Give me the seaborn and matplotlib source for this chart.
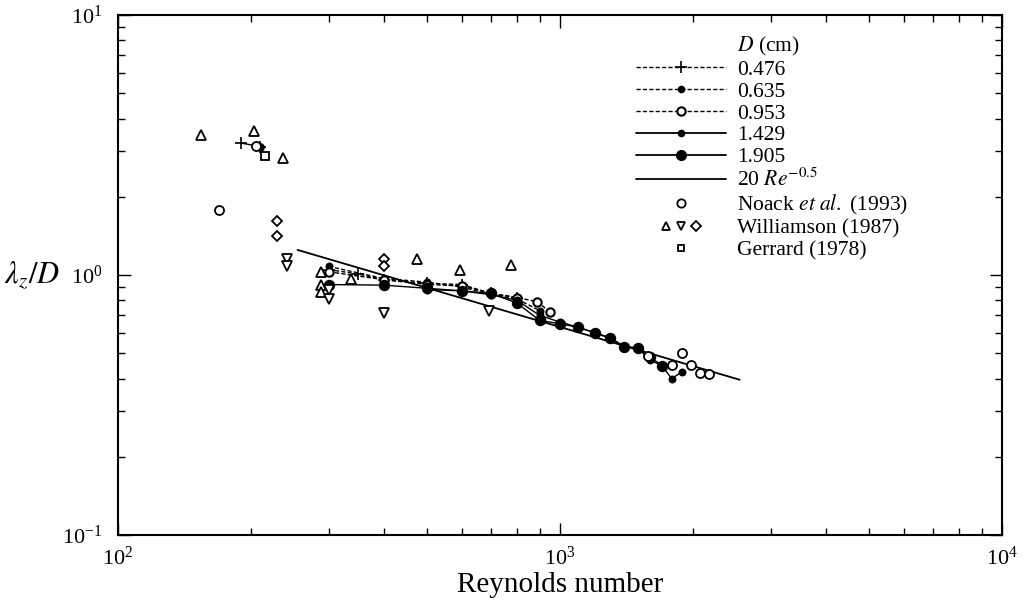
import numpy as np
import pandas as pd
import matplotlib
matplotlib.use("Agg")
import matplotlib.pyplot as plt
from matplotlib.lines import Line2D
from matplotlib.legend_handler import HandlerTuple
from matplotlib.ticker import LogLocator, NullFormatter
import seaborn as sns

# Spanwise wavelength measurements, one run per cylinder diameter D (cm)
re_0476 = [300, 350, 400, 500, 600, 700, 800]
lam_0476 = [1.05, 1.01, 0.96, 0.93, 0.92, 0.85, 0.82]
re_0476_low = [190, 210]
lam_0476_low = [3.22, 3.12]

re_0635 = [300, 400, 500, 600, 700, 800, 900]
lam_0635 = [1.08, 0.97, 0.94, 0.90, 0.84, 0.81, 0.73]
re_0635_low = [210]
lam_0635_low = [3.12]

re_0953 = [300, 400, 500, 600, 700, 800, 890, 950]
lam_0953 = [1.03, 0.96, 0.92, 0.91, 0.85, 0.82, 0.79, 0.72]

re_1429 = [500, 600, 700, 800, 900, 1000, 1100, 1200, 1300, 1400, 1500, 1600, 1700, 1790, 1890]
lam_1429 = [0.88, 0.87, 0.84, 0.80, 0.70, 0.66, 0.63, 0.60, 0.57, 0.53, 0.525, 0.47, 0.45, 0.40, 0.425]

re_1905 = [300, 400, 500, 600, 700, 800, 900, 1000, 1100, 1200, 1300, 1400, 1500, 1600, 1700]
lam_1905 = [0.92, 0.915, 0.89, 0.87, 0.85, 0.78, 0.67, 0.65, 0.63, 0.60, 0.575, 0.53, 0.525, 0.485, 0.449]

# Power-law fit 20 Re^-0.5 (straight on log-log axes), end points
fit_re = [255, 2550]
fit_lam = [1.25, 0.396]

# Literature data
noack_re = [169, 205, 1580, 1790, 1890, 1980, 2070, 2170]
noack_lam = [1.78, 3.15, 0.49, 0.45, 0.50, 0.45, 0.42, 0.415]

will_up_re = [154, 203, 237, 288, 288, 288, 337, 476, 594, 775]
will_up_lam = [3.47, 3.59, 2.83, 1.03, 0.92, 0.86, 0.97, 1.15, 1.05, 1.09]
will_dn_re = [241, 241, 300, 300, 400, 691]
will_dn_lam = [1.15, 1.08, 0.88, 0.81, 0.715, 0.73]
will_dm_re = [229, 229, 400, 400]
will_dm_lam = [1.61, 1.42, 1.15, 1.08]

gerrard_re = [215]
gerrard_lam = [2.86]

sns.set_theme(style="ticks")
plt.rcParams["font.family"] = ["Liberation Serif", "DejaVu Serif"]
plt.rcParams["mathtext.fontset"] = "stix"

fig = plt.figure(figsize=(10.24, 6.02), dpi=100)
ax = fig.add_axes([0.115, 0.111, 0.8635, 0.864])

K = "black"
dash = (3.0, 1.6)


def run(x, y, ls="-", marker=None, ms=4, mfc=K, lw=1.0, mew=1.2):
    sns.lineplot(x=x, y=y, ax=ax, color=K, estimator=None, sort=False,
                 linestyle=ls, linewidth=lw, marker=marker, markersize=ms,
                 markerfacecolor=mfc, markeredgecolor=K, markeredgewidth=mew,
                 legend=False)
    ln = ax.lines[-1]
    if ls == "--":
        ln.set_dashes(dash)
    return ln


def pts(x, y, marker, ms=6, mfc="white", mew=1.3):
    sns.lineplot(x=x, y=y, ax=ax, color=K, estimator=None, sort=False,
                 linestyle="none", marker=marker, markersize=ms,
                 markerfacecolor=mfc, markeredgecolor=K, markeredgewidth=mew,
                 legend=False)
    return ax.lines[-1]


run(fit_re, fit_lam, "-", None, lw=1.3)
run(re_0476, lam_0476, "--", "+", ms=8)
run(re_0476_low, lam_0476_low, "-", "+", ms=8)
run(re_0635, lam_0635, "--", "o", ms=4.5)
pts(re_0635_low, lam_0635_low, "o", ms=5, mfc=K)
run(re_0953, lam_0953, "--", "o", ms=6, mfc="white", mew=1.5)
run(re_1429, lam_1429, "-", "o", ms=4.5)
run(re_1905, lam_1905, "-", "o", ms=7)

pts(noack_re, noack_lam, "o", ms=6.5)
pts(will_up_re, will_up_lam, "^", ms=7)
pts(will_dn_re, will_dn_lam, "v", ms=7)
pts(will_dm_re, will_dm_lam, "D", ms=5.5)
pts(gerrard_re, gerrard_lam, "s", ms=5.5)

ax.set_xscale("log")
ax.set_yscale("log")
ax.set_xlim(1e2, 1e4)
ax.set_ylim(1e-1, 1e1)

for axis in (ax.xaxis, ax.yaxis):
    axis.set_major_locator(LogLocator(base=10, numticks=5))
    axis.set_minor_locator(LogLocator(base=10, subs=np.arange(2, 10), numticks=20))
    axis.set_minor_formatter(NullFormatter())

ax.tick_params(which="both", direction="in", top=True, right=True,
               colors=K, labelsize=16, width=1.0)
ax.tick_params(which="major", length=9)
ax.tick_params(which="minor", length=5)
ax.tick_params(axis="y", pad=11)
ax.tick_params(axis="x", pad=8)
for sp in ax.spines.values():
    sp.set_linewidth(1.5)
    sp.set_color(K)

ax.set_xlabel("Reynolds number", fontsize=21, color=K, labelpad=2)
ax.set_ylabel(r"$\lambda_z/D$", fontsize=22, color=K, rotation=0,
              ha="right", va="center")
ax.yaxis.set_label_coords(-0.065, 0.5)

# Legend
blank = Line2D([], [], linestyle="none", marker=None)
h_0476 = Line2D([], [], color=K, lw=1.0, dashes=dash, marker="+", ms=8, mew=1.2)
h_0635 = Line2D([], [], color=K, lw=1.0, dashes=dash, marker="o", ms=4.5, mfc=K)
h_0953 = Line2D([], [], color=K, lw=1.0, dashes=dash, marker="o", ms=6, mfc="white", mew=1.5)
h_1429 = Line2D([], [], color=K, lw=1.3, marker="o", ms=4.5, mfc=K)
h_1905 = Line2D([], [], color=K, lw=1.3, marker="o", ms=7, mfc=K)
h_fit = Line2D([], [], color=K, lw=1.3)
h_noack = Line2D([], [], linestyle="none", marker="o", ms=6, mfc="white", mec=K, mew=1.3)
h_wu = Line2D([], [], linestyle="none", marker="^", ms=6, mfc="white", mec=K, mew=1.3)
h_wd = Line2D([], [], linestyle="none", marker="v", ms=6, mfc="white", mec=K, mew=1.3)
h_wm = Line2D([], [], linestyle="none", marker="D", ms=5, mfc="white", mec=K, mew=1.3)
h_ger = Line2D([], [], linestyle="none", marker="s", ms=5, mfc="white", mec=K, mew=1.3)

handles = [blank, h_0476, h_0635, h_0953, h_1429, h_1905, h_fit, h_noack,
           (h_wu, h_wd, h_wm), h_ger]
labels = [r"$D$ (cm)", "0.476", "0.635", "0.953", "1.429", "1.905",
          r"20 $Re^{-0.5}$", r"Noack $et\ al.$ (1993)", "Williamson (1987)",
          "Gerrard (1978)"]
leg = ax.legend(handles, labels, loc="upper left", bbox_to_anchor=(0.576, 0.978),
                frameon=False, fontsize=15.5, handlelength=4.2, handletextpad=0.5,
                labelspacing=0.08, borderaxespad=0.0,
                handler_map={tuple: HandlerTuple(ndivide=None, pad=-2.1)})
for t in leg.get_texts():
    t.set_color(K)

fig.savefig("out.png", dpi=100, facecolor="white")
